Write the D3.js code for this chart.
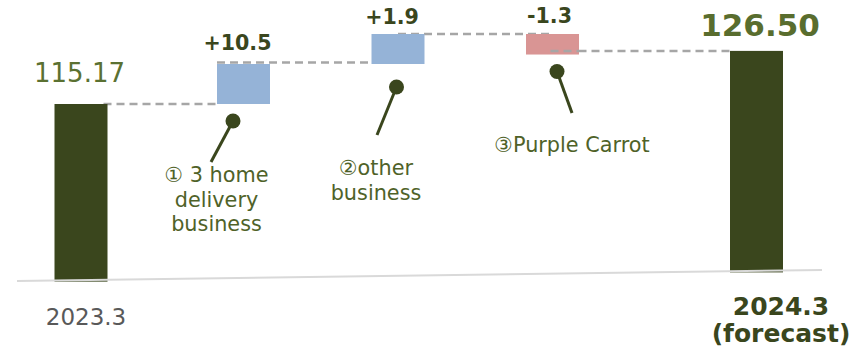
<!DOCTYPE html>
<html>
<head>
<meta charset="utf-8">
<script src="https://cdn.jsdelivr.net/npm/d3@7"></script>
<style>
  html, body { margin: 0; padding: 0; background: #fff; }
  svg { display: block; }
  text { font-family: "DejaVu Sans", Verdana, "Noto Sans CJK JP", sans-serif; }
</style>
</head>
<body>
<svg id="chart" width="864" height="353"></svg>
<script>
// ---- data ----
const startLabel = "2023.3";
const startValue = 115.17;
const stepLabels = ["① 3 home delivery business", "②other business", "③Purple Carrot"];
const stepValues = [10.5, 1.9, -1.3];
const stepValueLabels = ["+10.5", "+1.9", "-1.3"];
const endLabel = ["2024.3", "(forecast)"];
const endValue = 126.50;
const endValueLabel = "126.50";
const startValueLabel = "115.17";

// ---- layout ----
const svg = d3.select("#chart");
const barW = 53;
const colors = { total: "#3a461d", up: "#95b3d7", down: "#d99594",
                 dash: "#a6a6a6", axis: "#d9d9d9", lead: "#3a461d",
                 labelText: "#4f6228", totalText: "#596d2e", stepText: "#3a461d", cat: "#595959" };

// cumulative levels
const levels = [startValue];
stepValues.forEach(v => levels.push(levels[levels.length - 1] + v));

// x: index positions (0 = start, 1..3 = steps, 4 = end)
const x = d3.scaleLinear().domain([0, 1, 3, 4]).range([81, 243.5, 552.5, 756.5]);
// y: piecewise value scale through the visible waterfall levels
const y = d3.scaleLinear().domain([levels[0], levels[1], levels[2]]).range([104, 64, 34]);

// tilted base line
const axisStart = [17, 281], axisEnd = [822, 270];
const baseAt = px => axisStart[1] + (px - axisStart[0]) * (axisEnd[1] - axisStart[1]) / (axisEnd[0] - axisStart[0]);

// dashed connectors (behind bars)
const connectors = [
  { from: 0, to: 1, level: levels[0] },
  { from: 1, to: 2, level: levels[1] },
  { from: 2, to: 3, level: levels[2] },
  { from: 3, to: 4, level: endValue }
];
svg.append("g").selectAll("line").data(connectors).join("line")
  .attr("x1", d => x(d.from) + (d.from === 0 ? barW / 2 - 4 : d.from === 1 ? -barW / 2 : 0))
  .attr("x2", d => x(d.to) + (d.to === 4 ? -barW / 2 + 4 : d.to === 3 ? 0 : d.to === 2 ? -barW / 2 + 6 : -barW / 2))
  .attr("y1", d => y(d.level) - (d.from === 1 ? 1.5 : 0))
  .attr("y2", d => y(d.level) - (d.from === 1 ? 1.5 : 0))
  .attr("stroke", colors.dash).attr("stroke-width", 2.5)
  .attr("stroke-dasharray", "8,5");

// total bars
const totals = [
  { i: 0, v: startValue },
  { i: 4, v: endValue }
];
svg.append("g").selectAll("rect").data(totals).join("rect")
  .attr("x", d => x(d.i) - barW / 2)
  .attr("width", barW)
  .attr("y", d => y(d.v))
  .attr("height", d => baseAt(x(d.i)) + 1.5 - y(d.v))
  .attr("fill", colors.total);

// step bars
const steps = stepValues.map((v, k) => ({ i: k + 1, v, from: levels[k], to: levels[k + 1] }));
svg.append("g").selectAll("rect").data(steps).join("rect")
  .attr("x", d => x(d.i) - barW / 2)
  .attr("width", barW)
  .attr("y", d => y(Math.max(d.from, d.to)))
  .attr("height", d => Math.abs(y(d.from) - y(d.to)))
  .attr("fill", d => d.v >= 0 ? colors.up : colors.down);

// last connector drawn over the pink bar edge
svg.append("line")
  .attr("x1", x(3) - 2).attr("x2", x(3) + barW / 2)
  .attr("y1", y(endValue)).attr("y2", y(endValue))
  .attr("stroke", colors.dash).attr("stroke-width", 2.5).attr("stroke-dasharray", "8,5");

// base line
svg.append("line")
  .attr("x1", axisStart[0]).attr("y1", axisStart[1])
  .attr("x2", axisEnd[0]).attr("y2", axisEnd[1])
  .attr("stroke", colors.axis).attr("stroke-width", 2);

// step value labels
svg.append("g").selectAll("text").data(steps).join("text")
  .attr("x", (d, k) => x(d.i) + [-6, -6, -3][k])
  .attr("y", d => y(Math.max(d.from, d.to)) - [14, 10, 11][d.i - 1])
  .attr("text-anchor", "middle")
  .attr("font-size", 20.6).attr("font-weight", "bold")
  .attr("fill", colors.stepText)
  .text((d, k) => stepValueLabels[k]);

// total value labels
svg.append("text")
  .attr("x", x(0) - 1.5).attr("y", y(startValue) - 22)
  .attr("text-anchor", "middle").attr("font-size", 26)
  .attr("fill", "#5b7132").text(startValueLabel);
svg.append("text")
  .attr("x", x(4) + 3.5).attr("y", y(endValue) - 15)
  .attr("text-anchor", "middle").attr("font-size", 31).attr("font-weight", "bold")
  .attr("fill", colors.totalText).text(endValueLabel);

// category labels
svg.append("text")
  .attr("x", x(0) + 5).attr("y", 325)
  .attr("text-anchor", "middle").attr("font-size", 23)
  .attr("fill", colors.cat).text(startLabel);
svg.append("text")
  .attr("text-anchor", "middle").attr("font-size", 25).attr("font-weight", "bold")
  .attr("fill", colors.stepText)
  .selectAll("tspan").data(endLabel).join("tspan")
  .attr("x", x(4) + 24.5)
  .attr("y", (d, k) => 315 + k * 27)
  .text(d => d);

// annotations (lollipop leaders + labels)
const annLines = [
  ["① 3 home", "delivery", "business"],
  ["②other", "business"],
  ["③Purple Carrot"]
];
const annLayout = [
  { dot: [-10.5, 17], end: [211, 162], tx: 216.5, ty: 182 },
  { dot: [-1.5, 23], end: [377, 135], tx: 376, ty: 175 },
  { dot: [4.5, 17], end: [572, 113], tx: 572, ty: 152 }
];
const ann = svg.append("g");
steps.forEach((d, k) => {
  const L = annLayout[k];
  const bottom = y(Math.min(d.from, d.to));
  const cx = x(d.i) + L.dot[0], cy = bottom + L.dot[1];
  ann.append("line")
    .attr("x1", cx).attr("y1", cy).attr("x2", L.end[0]).attr("y2", L.end[1])
    .attr("stroke", colors.lead).attr("stroke-width", 3);
  ann.append("circle").attr("cx", cx).attr("cy", cy).attr("r", 7.5).attr("fill", colors.lead);
  ann.append("text")
    .attr("text-anchor", "middle").attr("font-size", 20.8)
    .attr("fill", colors.labelText)
    .selectAll("tspan").data(annLines[k]).join("tspan")
    .attr("x", L.tx).attr("y", (t, j) => L.ty + j * 24.5)
    .text(t => t);
});
</script>
</body>
</html>
